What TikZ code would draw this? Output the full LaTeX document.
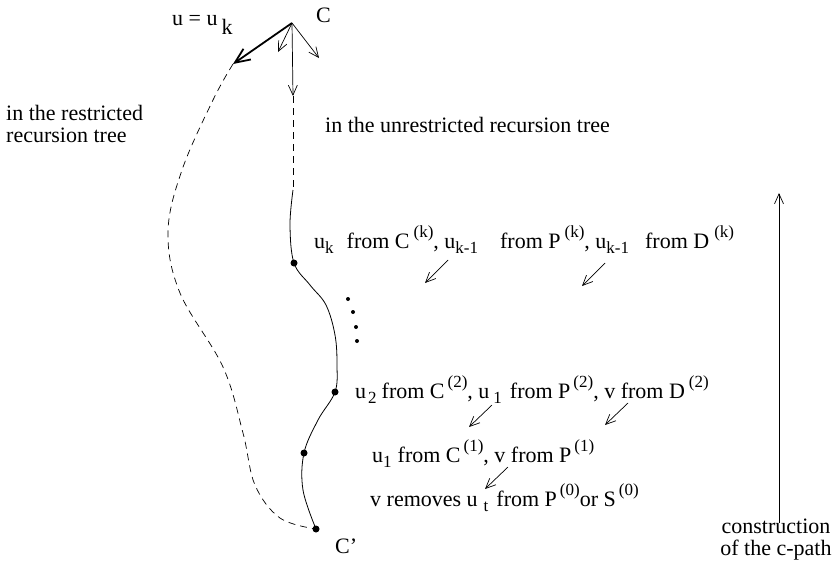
\documentclass[tikz,border=0pt]{standalone}
\usepackage{fontspec}
\setmainfont{Liberation Serif}
\usetikzlibrary{arrows.meta}
\newcommand{\lo}[1]{\raisebox{-0.55ex}{\fontsize{17}{17}\selectfont #1}}
\newcommand{\hi}[1]{\raisebox{1.0ex}{\fontsize{17}{17}\selectfont #1}}
\begin{document}
\begin{tikzpicture}[x=1pt,y=-1pt,
  txt/.style={inner sep=0pt,anchor=base west,font=\fontsize{22}{22}\selectfont},
  thin arrow/.style={line width=0.7pt,-{Straight Barb[length=10pt,width=9pt,line width=0.7pt]}},
  thick arrow/.style={line width=1.8pt,-{Straight Barb[length=15pt,width=13pt,line width=1.8pt]}},
  dot/.style={circle,fill=black,inner sep=0pt,minimum size=7pt},
  smalldot/.style={circle,fill=black,inner sep=0pt,minimum size=4pt}]
\useasboundingbox (0,0) rectangle (835,584);
% apex and path points
\coordinate (c) at (292,23);
\coordinate (uk) at (233,64);
\coordinate (a1) at (278,52);
\coordinate (a2) at (319,58);
\coordinate (down) at (293,96);
\coordinate (top) at (293,190);
\node[dot] (p1) at (294,263) {};
\node[dot] (p2) at (335,392) {};
\node[dot] (p3) at (304,453) {};
\node[dot] (cp) at (316,529) {};
\node[smalldot] (d1) at (348,299) {};
\node[smalldot] (d2) at (353,312) {};
\node[smalldot] (d3) at (356,327) {};
\node[smalldot] (d4) at (357,341) {};
% arrows from C
\draw[thick arrow] (c) -- (uk);
\draw[thin arrow] (c) -- (a1);
\draw[thin arrow] (c) -- (a2);
\draw[thin arrow] (c) -- (down);
\draw[line width=0.7pt,dash pattern=on 7pt off 5pt] (down) -- (top);
% solid path
\draw[line width=0.8pt] plot[smooth,tension=0.6] coordinates {(293,190) (290,225) (294,263) (310,285) (326,305) (335,335) (337,365) (335,392) (318,420) (304,453) (303,490) (316,529)};
% dashed path
\draw[line width=0.7pt,dash pattern=on 7pt off 5pt] plot[smooth,tension=0.6] coordinates {(233,64) (213,100) (182,170) (168,232) (180,293) (223,367) (243,433) (255,485) (280,518) (316,529)};
% labels
\node[txt] (lc) at (316,22) {C};
\node[txt] (lu) at (172,25) {u = u\hspace{4pt}\raisebox{-0.95ex}{k}};
\node[txt] (lcp) at (335,553) {C’};
\node[txt,align=left] (lr) at (6,142) {in the restricted\\recursion tree};
\node[txt] (lun) at (325,132) {in the unrestricted recursion tree};
\node[txt] (l1) at (314,248) {u\lo{k}\hspace{13pt}from C\hspace{4pt}\hi{(k)}, u\lo{k-1}\hspace{22pt}from P\hspace{4pt}\hi{(k)}, u\lo{k-1}\hspace{16pt}from D\hspace{5pt}\hi{(k)}};
\node[txt] (l2) at (355,398) {u\hspace{2pt}\lo{2}\hspace{5pt}from C\hspace{3pt}\hi{(2)}, u\hspace{4pt}\lo{1}\hspace{8pt}from P\hspace{3pt}\hi{(2)}, v from D\hspace{4pt}\hi{(2)}};
\node[txt] (l3) at (372,462) {u\lo{1}\hspace{6pt}from C\hspace{3pt}\hi{(1)}, v from P\hspace{3pt}\hi{(1)}};
\node[txt] (l4) at (370,506) {v removes u\hspace{6pt}\lo{t}\hspace{8pt}from P\hspace{3pt}\hi{(0)}or S\hspace{3pt}\hi{(0)}};
% small diagonal arrows
\coordinate (s1a) at (448,260); \coordinate (s1b) at (425,283);
\coordinate (s2a) at (605,263); \coordinate (s2b) at (582,286);
\coordinate (s3a) at (492,405); \coordinate (s3b) at (469,427);
\coordinate (s4a) at (628,403); \coordinate (s4b) at (605,425);
\coordinate (s5a) at (508,467); \coordinate (s5b) at (485,489);
\foreach \a/\b in {s1a/s1b,s2a/s2b,s3a/s3b,s4a/s4b,s5a/s5b}
  \draw[thin arrow] (\a) -- (\b);
% construction arrow
\coordinate (rb) at (779,523);
\coordinate (rt) at (779,193);
\draw[thin arrow] (rb) -- (rt);
\node[txt,align=center,anchor=base] (lcon) at (776,555) {construction\\of the c-path};
\end{tikzpicture}
\end{document}
